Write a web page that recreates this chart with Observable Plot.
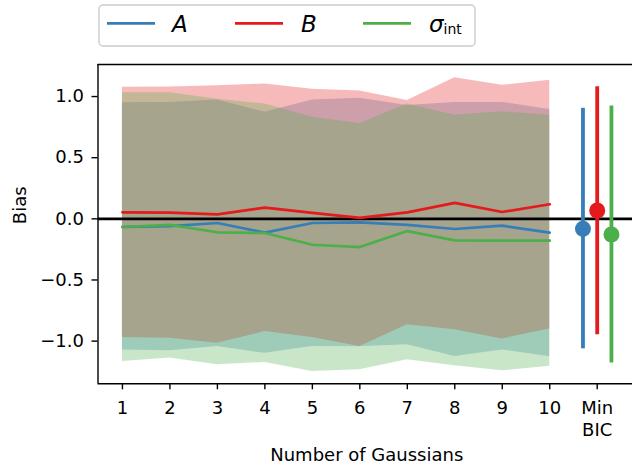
<!DOCTYPE html>
<html><head><meta charset="utf-8">
<script src="https://cdn.jsdelivr.net/npm/d3@7"></script>
<script src="https://cdn.jsdelivr.net/npm/@observablehq/plot@0.6"></script>
<style>
html,body{margin:0;padding:0;background:#fff;overflow:hidden;}
#wrap{width:632px;height:466px;position:relative;font-family:"DejaVu Sans";}
#wrap svg{display:block;}
</style></head>
<body><div id="wrap"></div>
<script>
// ---- data ----
const nGauss = [1, 2, 3, 4, 5, 6, 7, 8, 9, 10];

const biasA = [-0.067, -0.059, -0.034, -0.113, -0.034, -0.029, -0.050, -0.083, -0.056, -0.113];
const biasB = [0.053, 0.051, 0.037, 0.092, 0.048, 0.008, 0.053, 0.130, 0.056, 0.119];
const biasS = [-0.067, -0.050, -0.110, -0.116, -0.212, -0.231, -0.100, -0.176, -0.179, -0.179];

const hiA = [0.949, 0.952, 0.971, 0.872, 0.971, 0.985, 0.927, 0.952, 0.952, 0.895];
const loA = [-1.072, -1.078, -1.045, -1.100, -1.045, -1.047, -1.029, -1.125, -1.072, -1.127];
const hiB = [1.075, 1.078, 1.088, 1.102, 1.059, 1.045, 0.967, 1.154, 1.092, 1.133];
const loB = [-0.971, -0.977, -1.018, -0.922, -0.971, -1.045, -0.867, -0.906, -0.982, -0.900];
const hiS = [1.031, 1.031, 0.977, 0.938, 0.830, 0.780, 0.940, 0.848, 0.875, 0.848];
const loS = [-1.166, -1.138, -1.193, -1.174, -1.248, -1.234, -1.152, -1.201, -1.242, -1.206];

// Min BIC points (A, B, sigma_int)
const minBicX = [10.7, 11, 11.3];
const minBicVal = [-0.082, 0.068, -0.128];
const minBicLo = [-1.063, -0.948, -1.179];
const minBicHi = [0.904, 1.081, 0.923];

const seriesColors = ["#377eb8", "#e41a1c", "#4daf4a"];

const xTickValues = [1, 2, 3, 4, 5, 6, 7, 8, 9, 10, 11];
const xTickLabels = ["1", "2", "3", "4", "5", "6", "7", "8", "9", "10", "Min\nBIC"];
const yTickValues = [-1, -0.5, 0, 0.5, 1];

const xDomain = [0.485, 11.815];
const yDomain = [-1.349, 1.262];

// ---- legend (above the chart) ----
const wrap = document.getElementById("wrap");
const NS = "http://www.w3.org/2000/svg";
const leg = d3.create("svg").attr("width", 632).attr("height", 52);
leg.append("rect").attr("x", 99).attr("y", 5).attr("width", 376).attr("height", 41)
  .attr("rx", 4).attr("fill", "white").attr("stroke", "#cccccc").attr("stroke-width", 1.4);
const legItems = [
  {x: 107, tx: 172, color: seriesColors[0], label: "A"},
  {x: 235, tx: 301, color: seriesColors[1], label: "B"},
  {x: 363, tx: 429, color: seriesColors[2], label: "σ", sub: "int"}
];
for (const it of legItems) {
  leg.append("line").attr("x1", it.x).attr("x2", it.x + 48).attr("y1", 23.3).attr("y2", 23.3)
    .attr("stroke", it.color).attr("stroke-width", 2.8);
  const t = leg.append("text").attr("x", it.tx).attr("y", 32.3)
    .attr("font-family", "DejaVu Sans").attr("font-style", "italic").attr("font-size", 23)
    .attr("fill", "black").text(it.label);
  if (it.sub) {
    t.append("tspan").attr("font-style", "normal").attr("font-size", 14).attr("dy", 2).text(it.sub);
  }
}
wrap.appendChild(leg.node());

// ---- chart ----
const series = [
  {color: seriesColors[0], bias: biasA, lo: loA, hi: hiA},
  {color: seriesColors[1], bias: biasB, lo: loB, hi: hiB},
  {color: seriesColors[2], bias: biasS, lo: loS, hi: hiS}
];

const marks = [];
for (const s of series) {
  marks.push(Plot.areaY(nGauss, {x: d => d, y1: (d, i) => s.lo[i], y2: (d, i) => s.hi[i], fill: s.color, fillOpacity: 0.3}));
}
marks.push(Plot.ruleY([0], {stroke: "black", strokeWidth: 2.7}));
for (const s of series) {
  marks.push(Plot.lineY(nGauss, {x: d => d, y: (d, i) => s.bias[i], stroke: s.color, strokeWidth: 2.7}));
}
series.forEach((s, k) => {
  marks.push(Plot.ruleX([k], {x: i => minBicX[i], y1: i => minBicLo[i], y2: i => minBicHi[i], stroke: s.color, strokeWidth: 3.8}));
  marks.push(Plot.dot([k], {x: i => minBicX[i], y: i => minBicVal[i], r: 8, fill: s.color, stroke: "none"}));
});
// frame (left, top, bottom)
marks.push(Plot.ruleY([yDomain[0], yDomain[1]], {stroke: "black", strokeWidth: 1.4}));
marks.push(Plot.ruleX([xDomain[0]], {stroke: "black", strokeWidth: 1.4}));
// axes
marks.push(Plot.axisY({ticks: yTickValues, tickFormat: d3.format(".1f"), tickSize: 6, tickPadding: 8, strokeWidth: 1.4, label: null}));
marks.push(Plot.axisX({ticks: xTickValues, tickFormat: d => xTickLabels[xTickValues.indexOf(d)], tickSize: 6, tickPadding: 9, strokeWidth: 1.4, lineHeight: 1.2, label: null}));
// axis titles
marks.push(Plot.text(["Bias"], {frameAnchor: "left", dx: -78, rotate: -90, text: d => d, fontSize: 18}));
marks.push(Plot.text(["Number of Gaussians"], {frameAnchor: "bottom", dx: 1.5, dy: 77.4, lineAnchor: "bottom", text: d => d, fontSize: 18}));

const chart = Plot.plot({
  width: 632,
  height: 414,
  marginLeft: 97.5,
  marginRight: 0,
  marginTop: 12,
  marginBottom: 82.7,
  x: {domain: xDomain, range: [97.5, 635.4]},
  y: {domain: yDomain},
  style: {fontFamily: "DejaVu Sans", fontSize: "18px", color: "black", background: "white", overflow: "visible"},
  marks
});
wrap.appendChild(chart);
</script>
</body></html>
